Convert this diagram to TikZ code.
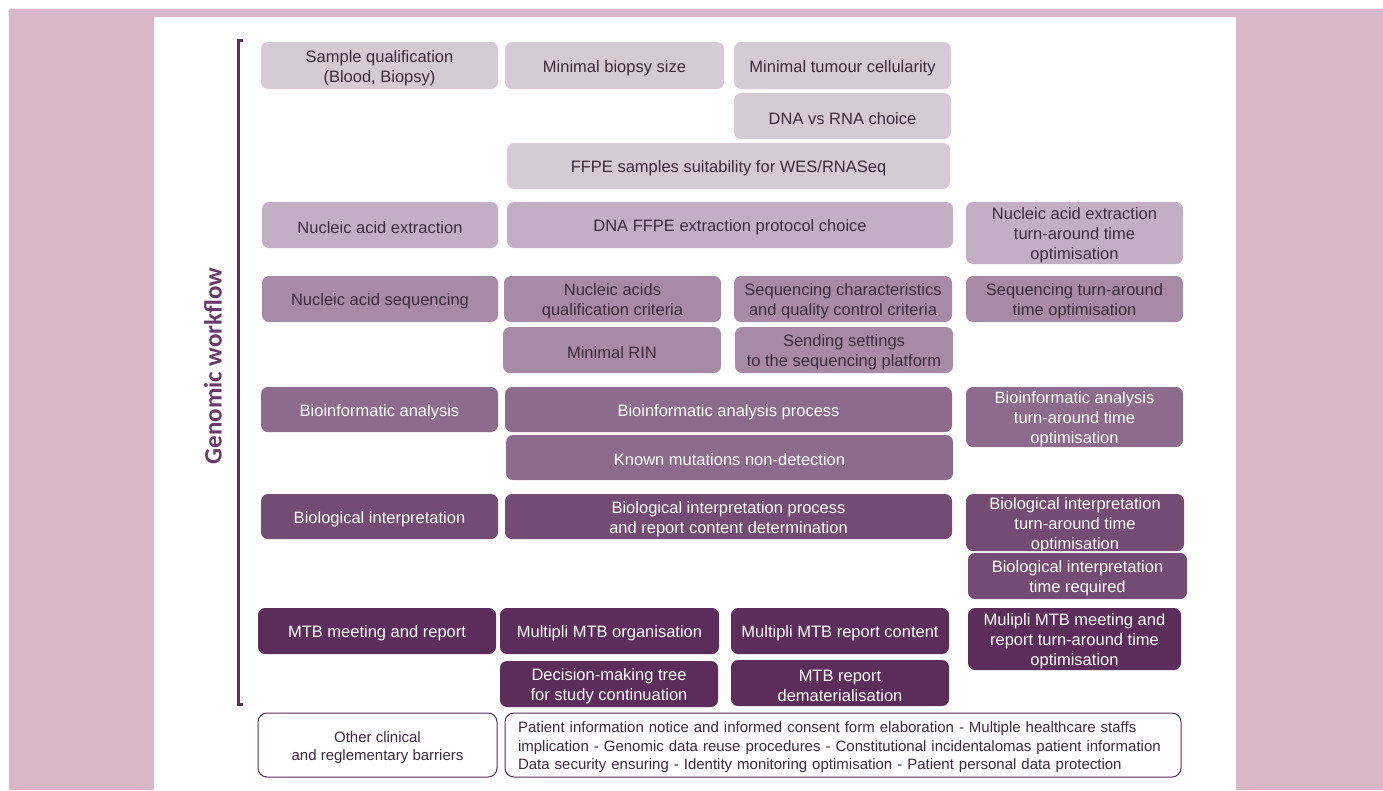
\documentclass[tikz,border=0pt]{standalone}
\usepackage{fontspec}
\setmainfont{Liberation Sans}
\newfontfamily\titlefont{Carlito}
\definecolor{bgpink}{HTML}{D9B7C7}
\definecolor{cA}{HTML}{D7CAD7}
\definecolor{cB}{HTML}{C4AEC4}
\definecolor{cC}{HTML}{A68AA6}
\definecolor{cD}{HTML}{8D6B8D}
\definecolor{cE}{HTML}{744B73}
\definecolor{cF}{HTML}{5C2C5A}
\definecolor{tdark}{HTML}{3C2A3C}
\definecolor{ctitle}{HTML}{6A376A}
\definecolor{cbrack}{HTML}{5E2D5E}
\newcommand\bx[7]{%
  \node[#6, minimum width={(#4-#2)*1pt}, minimum height={(#5-#3)*1pt}] (#1) at ({(#2+#4)/2},{(#3+#5)/2}) {};
  \node[#6, fill=none, draw=none, minimum width=0pt, minimum height=0pt] (#1-t) at ([yshift=-2.5pt]#1.center) {#7};}
\begin{document}
\begin{tikzpicture}[x=1pt,y=-1pt,
  box/.style={rounded corners=7pt, inner sep=0pt, align=center, font=\fontsize{16.5}{20}\selectfont},
  rA/.style={box, fill=cA, text=tdark},
  rB/.style={box, fill=cB, text=tdark},
  rC/.style={box, fill=cC, text=tdark},
  rD/.style={box, fill=cD, text=white},
  rE/.style={box, fill=cE, text=white},
  rF/.style={box, fill=cF, text=white},
  wbox/.style={rounded corners=9pt, inner sep=0pt, draw=cF, line width=1pt, fill=white, text=tdark, font=\fontsize{15}{18.5}\selectfont},
  bracket/.style={draw=cbrack, line width=3pt}]
\useasboundingbox (0,0) rectangle (1383,790);
\fill[white] (0,0) rectangle (1383,790);
\fill[bgpink] (9,9) rectangle (1383,790);
\fill[white] (154,17) rectangle (1236,790);
% bracket and title
\coordinate (bt) at (243,40);
\coordinate (bb) at (243,704);
\draw[bracket] (bt) -- ++(-5,0) |- (bb);
\node[rotate=90, font=\titlefont\bfseries\fontsize{25}{30}\selectfont, text=ctitle] (title) at (213,366) {Genomic workflow};
% row 1
\bx{sq}{261}{42}{498}{89}{rA}{Sample qualification\\(Blood, Biopsy)}
\bx{mbs}{505}{42}{724}{89}{rA}{Minimal biopsy size}
\bx{mtc}{734}{42}{951}{89}{rA}{Minimal tumour cellularity}
\bx{dna}{734}{93}{951}{139}{rA}{DNA vs RNA choice}
\bx{ffpe}{507}{143}{950}{189}{rA}{FFPE samples suitability for WES/RNASeq}
% row 2
\bx{nae}{262}{202}{498}{248}{rB}{Nucleic acid extraction}
\bx{dfe}{507}{202}{953}{248}{rB}{DNA FFPE extraction protocol choice}
\bx{naet}{966}{202}{1183}{264}{rB}{Nucleic acid extraction\\turn-around time\\optimisation}
% row 3
\bx{nas}{262}{276}{498}{322}{rC}{Nucleic acid sequencing}
\bx{naq}{504}{276}{721}{322}{rC}{Nucleic acids\\qualification criteria}
\bx{sqc}{734}{276}{952}{322}{rC}{Sequencing characteristics\\and quality control criteria}
\bx{stat}{966}{276}{1183}{322}{rC}{Sequencing turn-around\\time optimisation}
\bx{rin}{503}{327}{721}{373}{rC}{Minimal RIN}
\bx{send}{735}{327}{953}{373}{rC}{Sending settings\\to the sequencing platform}
% row 4
\bx{ba}{261}{387}{498}{432}{rD}{Bioinformatic analysis}
\bx{bap}{505}{387}{952}{432}{rD}{Bioinformatic analysis process}
\bx{bat}{966}{387}{1183}{447}{rD}{Bioinformatic analysis\\turn-around time\\optimisation}
\bx{kmn}{506}{435}{953}{480}{rD}{Known mutations non-detection}
% row 5
\bx{bi}{261}{494}{498}{539}{rE}{Biological interpretation}
\bx{bip}{505}{494}{952}{539}{rE}{Biological interpretation process\\and report content determination}
\bx{bit}{966}{494}{1184}{551}{rE}{Biological interpretation\\turn-around time\\optimisation}
\bx{bir}{968}{553}{1187}{599}{rE}{Biological interpretation\\time required}
% row 6
\bx{mtb}{258}{608}{496}{654}{rF}{MTB meeting and report}
\bx{mmo}{500}{608}{719}{654}{rF}{Multipli MTB organisation}
\bx{mmr}{731}{608}{949}{654}{rF}{Multipli MTB report content}
\bx{mmt}{968}{608}{1181}{670}{rF}{Mulipli MTB meeting and\\report turn-around time\\optimisation}
\bx{dmt}{500}{661}{718}{707}{rF}{Decision-making tree\\for study continuation}
\bx{mrd}{731}{660}{949}{706}{rF}{MTB report\\dematerialisation}
% bottom
\bx{ocr}{258}{713}{497}{777}{wbox, align=center}{Other clinical\\and reglementary barriers}
\bx{pin}{505}{713}{1181}{777}{wbox, align=left, text width=650pt}{Patient information notice and informed consent form elaboration - Multiple healthcare staffs\\implication - Genomic data reuse procedures - Constitutional incidentalomas patient information\\Data security ensuring - Identity monitoring optimisation - Patient personal data protection}
\end{tikzpicture}
\end{document}
